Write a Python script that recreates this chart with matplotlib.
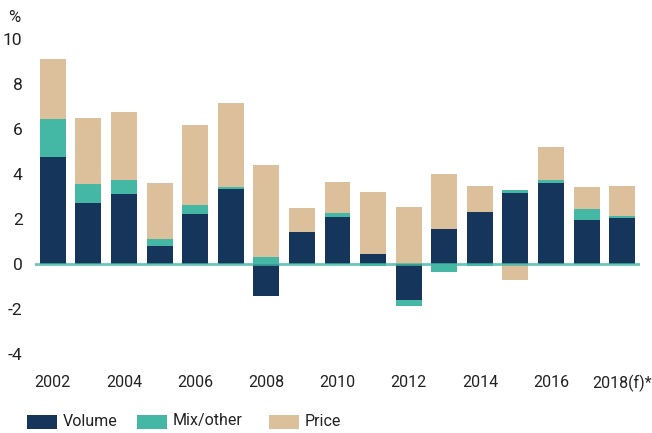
import matplotlib
matplotlib.use("Agg")
import matplotlib.pyplot as plt
import numpy as np
from matplotlib.patches import Rectangle

plt.rcParams['font.family'] = ['Roboto', 'DejaVu Sans']

years = ["2002", "2003", "2004", "2005", "2006", "2007", "2008", "2009", "2010",
         "2011", "2012", "2013", "2014", "2015", "2016", "2017", "2018(f)*"]
volume = [4.76, 2.71, 3.11, 0.80, 2.22, 3.33, -1.42, 1.42, 2.09,
          0.44, -1.60, 1.56, 2.31, 3.16, 3.60, 1.96, 2.04]
mix = [1.68, 0.85, 0.62, 0.31, 0.40, 0.09, 0.31, 0.00, 0.18,
       -0.09, -0.27, -0.36, -0.09, 0.13, 0.13, 0.48, 0.09]
price = [2.67, 2.93, 3.03, 2.49, 3.56, 3.74, 4.09, 1.07, 1.37,
         2.76, 2.53, 2.44, 1.16, -0.71, 1.47, 0.98, 1.34]
series_names = ["Volume", "Mix/other", "Price"]
colors = ["#15355b", "#45b8a5", "#dbc09b"]
yticks = [-4, -2, 0, 2, 4, 6, 8, 10]

fig = plt.figure(figsize=(6.52, 4.33), dpi=100)
ax = fig.add_axes([35/652, 1-354/433, 605/652, 315/433])

x = np.arange(len(years))
pos_base = np.zeros(len(years))
neg_base = np.zeros(len(years))
for vals, c in zip([volume, mix, price], colors):
    vals = np.array(vals)
    bottoms = np.where(vals >= 0, pos_base, neg_base)
    ax.bar(x, vals, bottom=bottoms, width=0.73, color=c, linewidth=0)
    pos_base = pos_base + np.where(vals >= 0, vals, 0)
    neg_base = neg_base + np.where(vals < 0, vals, 0)

ax.axhline(0, color="#45b8a5", linewidth=2, alpha=0.8, zorder=5)

ax.set_xlim(-0.5, len(years) - 0.5)
ax.set_ylim(-4, 10)
ax.set_yticks(yticks)
ax.set_yticklabels([str(t) for t in yticks], fontsize=12.5, color="#222222")
ax.set_xticks(x[::2])
ax.set_xticklabels(years[::2], fontsize=11.5, color="#222222")
ax.tick_params(axis="both", length=0)
ax.tick_params(axis="x", pad=15)
ax.tick_params(axis="y", pad=9)
for s in ax.spines.values():
    s.set_visible(False)

fig.text(8/652, 1-17/433, "%", fontsize=12, color="#222222", va="center", ha="left")

# legend
leg_x = [27, 137, 269]
for name, c, lx in zip(series_names, colors, leg_x):
    fig.patches.append(Rectangle((lx/652, 1-429/433), 30/652, 14/433,
                                 transform=fig.transFigure, color=c, linewidth=0))
    fig.text((lx+36)/652, 1-421/433, name, fontsize=11.5, color="#222222",
             va="center", ha="left")

fig.savefig("out.png", dpi=100)
